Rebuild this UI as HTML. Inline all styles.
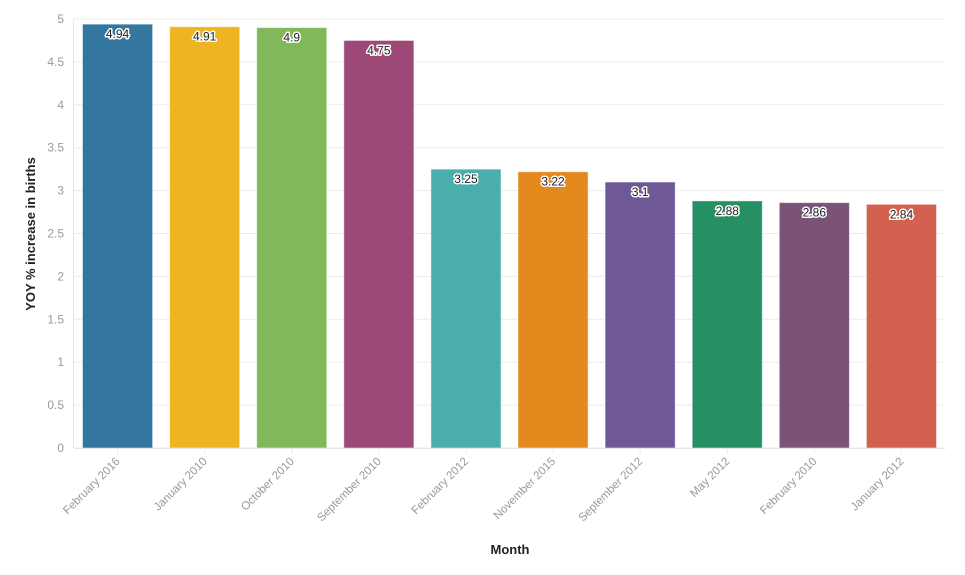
<!DOCTYPE html>
<html><head><meta charset="utf-8"><style>
html,body{margin:0;padding:0;background:#fff;}
svg{display:block;font-family:"Liberation Sans",sans-serif;}
</style></head><body>
<svg id="chart" width="965" height="575" viewBox="0 0 965 575" xmlns="http://www.w3.org/2000/svg"></svg>
<script>
const categories=["February 2016","January 2010","October 2010","September 2010","February 2012","November 2015","September 2012","May 2012","February 2010","January 2012"];
const values=[4.94,4.91,4.9,4.75,3.25,3.22,3.1,2.88,2.86,2.84];
const labels=["4.94","4.91","4.9","4.75","3.25","3.22","3.1","2.88","2.86","2.84"];
const colors=["#33769e","#efb521","#80b85a","#9e4878","#4baead","#e3891e","#6f5898","#268f63","#7b5379","#d36150"];
const yTicks=[0,0.5,1,1.5,2,2.5,3,3.5,4,4.5,5];
const yTickLabels=["0","0.5","1","1.5","2","2.5","3","3.5","4","4.5","5"];
const NS="http://www.w3.org/2000/svg";
const svg=document.getElementById('chart');
const L=74,R=945,T=19,B=448;
const y=v=>B-(v/5)*(B-T);
const step=(R-L)/categories.length;
const x=i=>L+i*step;
function mk(t,a,p){const e=document.createElementNS(NS,t);for(const k in a)e.setAttribute(k,a[k]);(p||svg).appendChild(e);return e;}
yTicks.forEach((t,i)=>{
  const g=mk('line',{x1:L,x2:R,y1:y(t),y2:y(t),stroke:'#ebebeb','stroke-width':1});
  
  
  const tx=mk('text',{x:L-10,y:y(t)+4,'text-anchor':'end','font-size':12,fill:'#999'});
  tx.textContent=yTickLabels[i];
  
  
});
const ax=mk('line',{x1:L-0.5,x2:L-0.5,y1:T,y2:B,stroke:'#e6e6e6'});


categories.forEach((c,i)=>{
  const bx=x(i)+8.5,bw=step-17;
  const r=mk('rect',{x:bx,y:y(values[i]),width:bw,height:B-y(values[i]),fill:colors[i],stroke:'rgba(255,255,255,0.5)','stroke-width':1});
  
  
  const cx=x(i)+step/2;
  const lt=mk('text',{x:cx,y:y(values[i])+14,'text-anchor':'middle','font-size':12,fill:'#222',stroke:'#fff','stroke-width':3,'paint-order':'stroke','stroke-linejoin':'round'});
  lt.textContent=labels[i];
  
  
  const tk=mk('line',{x1:cx,x2:cx,y1:B,y2:B+5,stroke:'#e6e6e6'});
  
  
  const xt=mk('text',{x:cx+3,y:B+14,'text-anchor':'end','font-size':11.5,fill:'#999',transform:`rotate(-45 ${cx+3} ${B+14})`});
  xt.textContent=c;
  
  
});
const bl=mk('line',{x1:L,x2:R,y1:B+0.5,y2:B+0.5,stroke:'#e6e6e6'});


const xtitle=mk('text',{x:510,y:554,'text-anchor':'middle','font-size':13,'font-weight':'bold',fill:'#222'});
xtitle.textContent='Month';


const ytitle=mk('text',{x:35,y:234,'text-anchor':'middle','font-size':13,'font-weight':'bold',fill:'#222',transform:'rotate(-90 35 234)'});
ytitle.textContent='YOY % increase in births';


</script>
</body></html>
